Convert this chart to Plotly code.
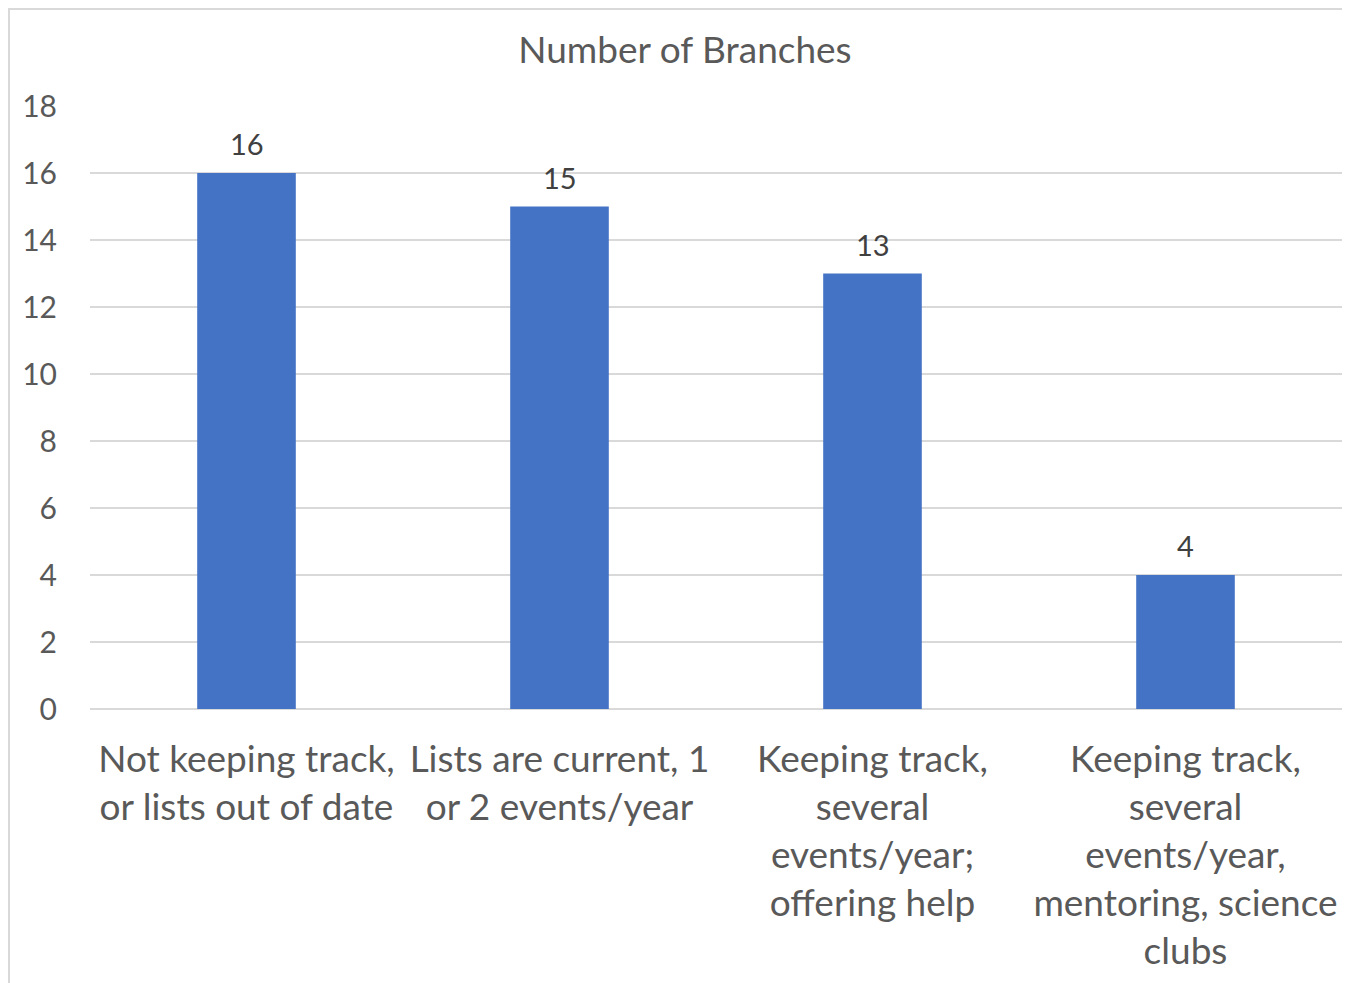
import plotly.graph_objects as go

categories = [
    "Not keeping track,<br>or lists out of date",
    "Lists are current, 1<br>or 2 events/year",
    "Keeping track,<br>several<br>events/year;<br>offering help",
    "Keeping track,<br>several<br>events/year,<br>mentoring, science<br>clubs",
]
values = [16, 15, 13, 4]
y_ticks = [0, 2, 4, 6, 8, 10, 12, 14, 16, 18]

FONT = "Lato"
GRAY = "#595959"

W, H = 1342, 975
L, R, T, B = 82, 8, 98, 274
PW, PH = W - L - R, H - T - B

fig = go.Figure(go.Bar(
    x=categories,
    y=values,
    marker=dict(color="#4472C4", line=dict(width=0)),
    width=0.315,
    cliponaxis=False,
))

for c, v in zip(categories, values):
    fig.add_annotation(x=c, y=v, text=str(v), showarrow=False,
                       yanchor="bottom", yshift=10,
                       font=dict(family=FONT, size=29, color="#404040"))

fig.update_layout(
    width=W, height=H,
    margin=dict(l=L, r=R, t=T, b=B),
    paper_bgcolor="white", plot_bgcolor="white",
    title=dict(text="Number of Branches", x=677 / W, xanchor="center",
               y=1 - 42 / H, yanchor="middle",
               font=dict(family=FONT, size=37, color=GRAY)),
    showlegend=False,
    xaxis=dict(tickfont=dict(family=FONT, size=37, color=GRAY),
               showline=False, ticks="", tickangle=0, automargin=False,
               ticklabelstandoff=25),
    yaxis=dict(range=[0, 18], tickvals=y_ticks, showgrid=True,
               gridcolor="#D9D9D9", gridwidth=2, zeroline=True,
               zerolinecolor="#D9D9D9", zerolinewidth=2,
               tickfont=dict(family=FONT, size=30, color=GRAY),
               ticks="outside", ticklen=26, tickcolor="white",
               automargin=False),
    shapes=[dict(type="rect", xref="paper", yref="paper",
                 x0=(1 - L) / PW, x1=(W + 20 - L) / PW,
                 y0=-(B + 20) / PH, y1=1 + (T - 1) / PH,
                 line=dict(color="#D9D9D9", width=2), layer="below")],
)

fig.write_html("out.html")
